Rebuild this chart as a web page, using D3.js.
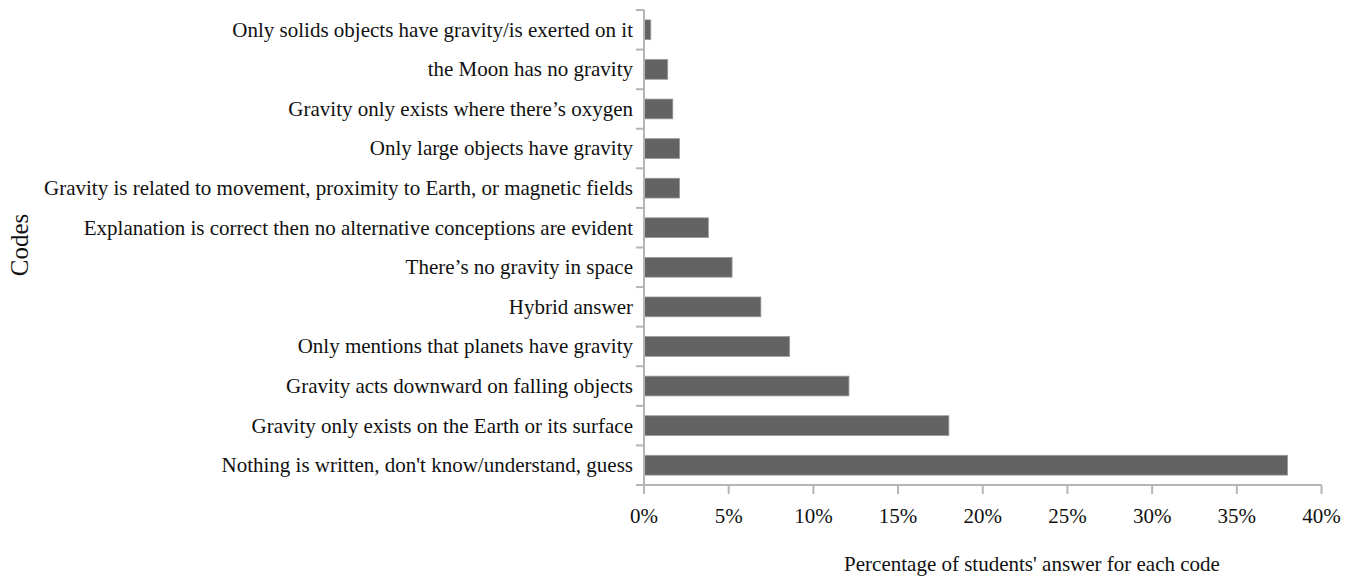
<!DOCTYPE html>
<html>
<head>
<meta charset="utf-8">
<script src="https://cdn.jsdelivr.net/npm/d3@7"></script>
<style>
body { margin: 0; background: #fff; }
text { font-family: "Liberation Serif", "DejaVu Serif", serif; fill: #111; }
</style>
</head>
<body>
<svg id="chart" width="1352" height="576"></svg>
<script>
// categories top to bottom
const codes = [
  "Only solids objects have gravity/is exerted on it",
  "the Moon has no gravity",
  "Gravity only exists where there\u2019s oxygen",
  "Only large objects have gravity",
  "Gravity is related to movement, proximity to Earth, or magnetic fields",
  "Explanation is correct then no alternative conceptions are evident",
  "There\u2019s no gravity in space",
  "Hybrid answer",
  "Only mentions that planets have gravity",
  "Gravity acts downward on falling objects",
  "Gravity only exists on the Earth or its surface",
  "Nothing is written, don't know/understand, guess"
];
const percents = [0.4, 1.4, 1.7, 2.1, 2.1, 3.8, 5.2, 6.9, 8.6, 12.1, 18, 38];
const xTicks = [0, 5, 10, 15, 20, 25, 30, 35, 40];

const fontSize = 21;

const svg = d3.select("#chart");

const x = d3.scaleLinear().domain([0, 40]).range([644, 1321.5]);
const y = d3.scaleBand().domain(codes).range([10, 485])
  .paddingInner(0.5).paddingOuter(0.25);

const axisColor = "#b5b5b5";

// bars
svg.selectAll(".bar")
  .data(codes)
  .join("rect")
  .attr("class", "bar")
  .attr("x", x(0))
  .attr("y", d => y(d))
  .attr("width", (d, i) => x(percents[i]) - x(0))
  .attr("height", y.bandwidth())
  .attr("fill", "#636363")
  .attr("stroke", "#9a9a9a")
  .attr("stroke-width", 0.8);

// y axis line + ticks on band edges
const gap = (y.step() - y.bandwidth()) / 2;
const edges = codes.map(d => y(d) - gap).concat([y(codes[codes.length - 1]) + y.bandwidth() + gap]);

svg.append("line")
  .attr("x1", x(0)).attr("x2", x(0))
  .attr("y1", edges[0]).attr("y2", edges[edges.length - 1])
  .attr("stroke", axisColor).attr("stroke-width", 2);

svg.selectAll(".ytick")
  .data(edges)
  .join("line")
  .attr("x1", x(0) - 8).attr("x2", x(0))
  .attr("y1", d => d).attr("y2", d => d)
  .attr("stroke", axisColor).attr("stroke-width", 2);

// category labels
svg.selectAll(".ylab")
  .data(codes)
  .join("text")
  .attr("class", "ylab")
  .attr("x", x(0) - 11)
  .attr("y", d => y(d) + y.bandwidth() / 2)
  .attr("text-anchor", "end")
  .attr("dy", "0.33em")
  .style("font-size", fontSize + "px")
  .text(d => d);

// x axis
const xAxisY = edges[edges.length - 1];
svg.append("line")
  .attr("x1", x(0)).attr("x2", x(40))
  .attr("y1", xAxisY).attr("y2", xAxisY)
  .attr("stroke", axisColor).attr("stroke-width", 2);

svg.selectAll(".xtick")
  .data(xTicks)
  .join("line")
  .attr("x1", d => x(d)).attr("x2", d => x(d))
  .attr("y1", xAxisY).attr("y2", xAxisY + 9)
  .attr("stroke", axisColor).attr("stroke-width", 2);

svg.selectAll(".xlab")
  .data(xTicks)
  .join("text")
  .attr("class", "xlab")
  .attr("x", d => x(d))
  .attr("y", xAxisY + 38)
  .attr("text-anchor", "middle")
  .style("font-size", fontSize + "px")
  .text(d => d + "%");

// axis titles
svg.append("text")
  .attr("x", 1032)
  .attr("y", 571)
  .attr("text-anchor", "middle")
  .style("font-size", fontSize + "px")
  .text("Percentage of students' answer for each code");

svg.append("text")
  .attr("transform", `translate(28, 245) rotate(-90)`)
  .attr("text-anchor", "middle")
  .style("font-size", "25px")
  .text("Codes");
</script>
</body>
</html>
